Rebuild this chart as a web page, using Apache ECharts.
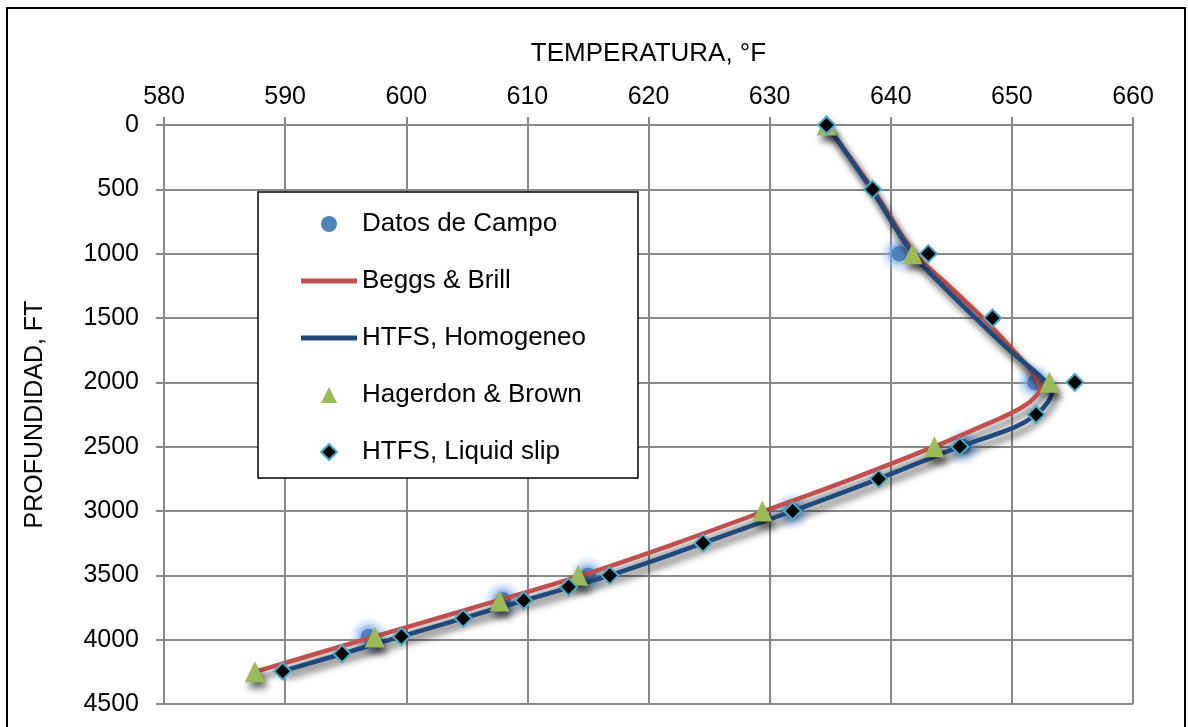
<!DOCTYPE html>
<html>
<head>
<meta charset="utf-8">
<script src="https://cdn.jsdelivr.net/npm/echarts@6/dist/echarts.min.js"></script>
<style>
  html, body { margin: 0; padding: 0; background: #ffffff; }
  #chart { width: 1188px; height: 727px; }
</style>
</head>
<body>
<div id="chart"></div>
<script>
// Temperature (°F) vs depth (ft) along the well

// Axis ticks
const tempMin = 580, tempMax = 660, tempStep = 10;
const depthMin = 0, depthMax = 4500, depthStep = 500;

// Datos de Campo (field measurements)
const campoDepth = [1000, 2000, 2500, 3000, 3500, 3690, 3975];
const campoTemp  = [640.7, 651.9, 646.0, 631.9, 615.0, 608.0, 596.9];

// Beggs & Brill
const beggsDepth = [0, 500, 1000, 1250, 1500, 1750, 1950, 2050, 2150, 2250, 2350, 2500, 2750, 3000, 3250, 3500, 3750, 4000, 4250];
const beggsTemp  = [634.7, 638.5, 642.0, 644.8, 647.6, 650.1, 651.9, 652.3, 651.5, 649.7, 647.3, 643.6, 636.8, 629.6, 622.3, 614.5, 605.6, 596.5, 587.5];

// HTFS, Homogeneo
const homoDepth = [0, 500, 1000, 1250, 1500, 1750, 1950, 2070, 2150, 2250, 2350, 2500, 2750, 3000, 3250, 3500, 3750, 4000, 4245];
const homoTemp  = [634.7, 638.4, 641.8, 644.3, 647.0, 649.8, 652.3, 653.3, 653.0, 652.0, 650.2, 645.7, 639.0, 631.9, 624.5, 616.8, 607.7, 598.7, 589.8];

// Hagerdon & Brown
const hagDepth = [0, 1000, 2000, 2500, 3000, 3500, 3700, 3980, 4250];
const hagTemp  = [634.7, 641.8, 653.1, 643.6, 629.4, 614.2, 607.7, 597.4, 587.5];

// HTFS, Liquid slip
const slipDepth = [0, 500, 1000, 1500, 2000, 2250, 2500, 2750, 3000, 3250, 3500, 3590, 3695, 3835, 3975, 4110, 4245];
const slipTemp  = [634.7, 638.5, 643.1, 648.4, 655.2, 652.0, 645.7, 639.0, 631.9, 624.5, 616.8, 613.4, 609.7, 604.7, 599.6, 594.7, 589.8];

const pairs = (t, d) => t.map((v, i) => [v, d[i]]);

const FONT = '"Liberation Sans", Arial, sans-serif';
const GRID = '#888888';
const dropShadow = { shadowBlur: 7, shadowOffsetX: 3, shadowOffsetY: 6, shadowColor: 'rgba(0,0,0,0.6)' };

// Field points: solid blue dot with a soft light-blue halo
const glowDot = new echarts.graphic.RadialGradient(0.5, 0.5, 0.5, [
  { offset: 0, color: '#4F81BD' },
  { offset: 0.36, color: '#4F81BD' },
  { offset: 0.40, color: 'rgba(110,160,230,0.75)' },
  { offset: 0.65, color: 'rgba(130,175,235,0.35)' },
  { offset: 1, color: 'rgba(150,190,240,0)' }
]);

// Legend icon outlines
const LINE_ICON = 'path://M0,0 L56,0 L56,5 L0,5 Z';
const TRI_ICON = 'path://M10,0 L20,20 L0,20 Z';
const DIAMOND_ICON = 'path://M8,0 L16,8 L8,16 L0,8 Z';

// Triangle marker with a drop shadow, placed through the axes' coordinate system
const TRI_W = 20, TRI_H = 21;
function renderTriangle(params, api) {
  const p = api.coord([api.value(0), api.value(1)]);
  return {
    type: 'polygon',
    shape: {
      points: [
        [p[0], p[1] - TRI_H / 2],
        [p[0] + TRI_W / 2, p[1] + TRI_H / 2],
        [p[0] - TRI_W / 2, p[1] + TRI_H / 2]
      ]
    },
    style: Object.assign({ fill: '#9BBB59' }, dropShadow)
  };
}

const chart = echarts.init(document.getElementById('chart'), null, { renderer: 'canvas' });

chart.setOption({
  animation: false,
  backgroundColor: '#ffffff',
  grid: { left: 164, right: 55, top: 125, bottom: 23, containLabel: false },
  xAxis: {
    type: 'value',
    position: 'top',
    min: tempMin, max: tempMax, interval: tempStep,
    name: 'TEMPERATURA, °F',
    nameLocation: 'middle',
    nameGap: 58,
    nameTextStyle: { fontFamily: FONT, fontSize: 26, color: '#000' },
    axisLine: { show: true, lineStyle: { color: GRID, width: 2 } },
    axisTick: { show: true, length: 8, lineStyle: { color: GRID, width: 2 } },
    axisLabel: { fontFamily: FONT, fontSize: 25, color: '#000', margin: 15, formatter: v => String(v) },
    splitLine: { show: true, lineStyle: { color: GRID, width: 2 } }
  },
  yAxis: {
    type: 'value',
    inverse: true,
    min: depthMin, max: depthMax, interval: depthStep,
    name: 'PROFUNDIDAD, FT',
    nameLocation: 'middle',
    nameGap: 116,
    nameTextStyle: { fontFamily: FONT, fontSize: 25, color: '#000' },
    axisLine: { show: true, lineStyle: { color: GRID, width: 2 } },
    axisTick: { show: true, length: 8, lineStyle: { color: GRID, width: 2 } },
    axisLabel: { fontFamily: FONT, fontSize: 25, color: '#000', margin: 25, formatter: v => String(v) },
    splitLine: { show: true, lineStyle: { color: GRID, width: 2 } }
  },
  legend: {
    orient: 'vertical',
    left: 301,
    top: 211,
    padding: 0,
    itemWidth: 56,
    itemHeight: 16,
    itemGap: 31,
    symbolKeepAspect: true,
    textStyle: { fontFamily: FONT, fontSize: 26, color: '#000', lineHeight: 26 },
    data: [
      { name: 'Datos de Campo', icon: 'circle', itemStyle: { color: '#4F81BD' } },
      { name: 'Beggs & Brill', icon: LINE_ICON, itemStyle: { color: '#C0504D' } },
      { name: 'HTFS, Homogeneo', icon: LINE_ICON, itemStyle: { color: '#1F497D' } },
      { name: 'Hagerdon & Brown', icon: TRI_ICON, itemStyle: { color: '#9BBB59' } },
      { name: 'HTFS, Liquid slip', icon: DIAMOND_ICON }
    ]
  },
  graphic: [
    {
      type: 'rect', z: 3, silent: true,
      shape: { x: 258, y: 192, width: 380, height: 286 },
      style: { fill: '#ffffff', stroke: '#000000', lineWidth: 1.5 }
    },
    {
      type: 'rect', z: 10, silent: true,
      shape: { x: 7, y: 8, width: 1178, height: 800 },
      style: { fill: 'none', stroke: '#000000', lineWidth: 2 }
    }
  ],
  series: [
    {
      name: 'Datos de Campo',
      type: 'scatter',
      z: 2,
      symbol: 'circle',
      symbolSize: 40,
      itemStyle: { color: glowDot, opacity: 1 },
      data: pairs(campoTemp, campoDepth)
    },
    {
      name: 'Beggs & Brill',
      type: 'line',
      z: 3,
      symbol: 'none',
      showSymbol: false,
      smooth: 0.35,
      lineStyle: Object.assign({ color: '#C0504D', width: 4.5 }, dropShadow),
      itemStyle: { color: '#C0504D' },
      data: pairs(beggsTemp, beggsDepth)
    },
    {
      name: 'HTFS, Homogeneo',
      type: 'line',
      z: 3,
      symbol: 'none',
      showSymbol: false,
      smooth: 0.35,
      lineStyle: Object.assign({ color: '#1F497D', width: 4.5 }, dropShadow),
      itemStyle: { color: '#1F497D' },
      data: pairs(homoTemp, homoDepth)
    },
    {
      name: 'Hagerdon & Brown',
      type: 'custom',
      z: 4,
      clip: false,
      renderItem: renderTriangle,
      encode: { x: 0, y: 1 },
      itemStyle: { color: '#9BBB59' },
      data: pairs(hagTemp, hagDepth)
    },
    {
      name: 'HTFS, Liquid slip',
      type: 'scatter',
      z: 5,
      symbol: 'diamond',
      symbolSize: 17,
      itemStyle: { color: '#000000', opacity: 1, borderColor: '#4BACC6', borderWidth: 2 },
      data: pairs(slipTemp, slipDepth)
    }
  ]
});
</script>
</body>
</html>
